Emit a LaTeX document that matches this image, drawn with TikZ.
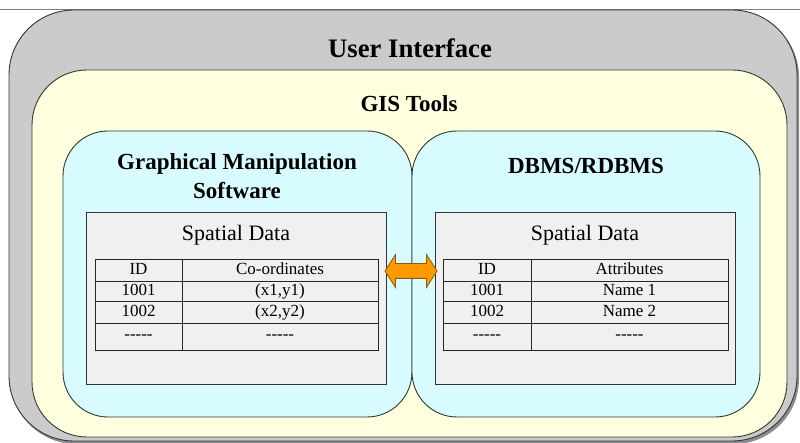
\documentclass[tikz,border=0pt]{standalone}
\usepackage{fontspec}
\newfontfamily\diagfont{Liberation Serif}
\usetikzlibrary{shapes.arrows}
\definecolor{shellgray}{HTML}{CBCBCB}
\definecolor{toolyellow}{HTML}{FFFFE0}
\definecolor{appcyan}{HTML}{D8FBFF}
\definecolor{panelgray}{HTML}{F0F0F0}
\definecolor{edge}{HTML}{2E3A2E}
\definecolor{arroworange}{HTML}{FF9900}
\definecolor{arrowedge}{HTML}{8A5A10}
\tikzset{
  layer/.style={draw=edge, line width=0.9pt},
  panel/.style={draw=black!80, fill=panelgray, line width=0.9pt},
  grid/.style={draw=black!85, line width=0.9pt},
  cell/.style={font=\diagfont\fontsize{17}{17}\selectfont, anchor=base, inner sep=0pt},
  caption/.style={font=\diagfont\fontsize{22}{22}\selectfont, anchor=base, inner sep=0pt},
  title/.style={font=\diagfont\bfseries\fontsize{23}{23}\selectfont, anchor=base, inner sep=0pt},
}
\begin{document}
\begin{tikzpicture}[x=1pt, y=-1pt]
\useasboundingbox (0,0) rectangle (800,443);
\fill[white] (0,0) rectangle (800,443);
% rule along the top edge
\draw[gray, line width=0.8pt] (0,9) -- (800,9);

% outer shell: user interface
\fill[black!45, rounded corners=65pt] (11,12) rectangle (799,444);
\filldraw[layer, fill=shellgray, rounded corners=65pt] (9,10) rectangle (797,441);
% GIS tools layer
\filldraw[layer, fill=toolyellow, rounded corners=55pt] (32,70) rectangle (787,437);
% the two application containers
\filldraw[layer, fill=appcyan, rounded corners=45pt] (63,131) rectangle (412,417);
\filldraw[layer, fill=appcyan, rounded corners=45pt] (412,131) rectangle (760,417);

% headings
\node[title, font=\diagfont\bfseries\fontsize{26.7}{26.7}\selectfont] (ui) at (410,58) {User Interface};
\node[title] (gis) at (409,112) {GIS Tools};
\node[title] (gms1) at (237,170) {Graphical Manipulation};
\node[title] (gms2) at (237,199) {Software};
\node[title] (dbms) at (586,174) {DBMS/RDBMS};

% spatial data panels
\node[panel, minimum width=300pt, minimum height=172pt, anchor=north west, inner sep=0pt] (lpanel) at (86,212) {};
\node[panel, minimum width=300pt, minimum height=172pt, anchor=north west, inner sep=0pt] (rpanel) at (435,212) {};
\node[caption] (lsd) at (236,241) {Spatial Data};
\node[caption] (rsd) at (585,241) {Spatial Data};

% left table: ID / co-ordinates
\draw[grid] (95,259) rectangle (378,350);
\draw[grid] (182,259) -- (182,350);
\foreach \yy in {281,301,323} \draw[grid] (95,\yy) -- (378,\yy);
\node[cell] (lid) at (138.5,275) {ID};
\node[cell] (lco) at (280,275) {Co-ordinates};
\node[cell] (l1a) at (138.5,296) {1001};
\node[cell] (l1b) at (280,296) {(x1,y1)};
\node[cell] (l2a) at (138.5,317) {1002};
\node[cell] (l2b) at (280,317) {(x2,y2)};
\node[cell] (l3a) at (138.5,340) {-{}-{}-{}-{}-};
\node[cell] (l3b) at (280,340) {-{}-{}-{}-{}-};

% right table: ID / attributes
\draw[grid] (443,259) rectangle (728,350);
\draw[grid] (531,259) -- (531,350);
\foreach \yy in {281,301,323} \draw[grid] (443,\yy) -- (728,\yy);
\node[cell] (rid) at (487,275) {ID};
\node[cell] (rat) at (629.5,275) {Attributes};
\node[cell] (r1a) at (487,296) {1001};
\node[cell] (r1b) at (629.5,296) {Name 1};
\node[cell] (r2a) at (487,317) {1002};
\node[cell] (r2b) at (629.5,317) {Name 2};
\node[cell] (r3a) at (487,340) {-{}-{}-{}-{}-};
\node[cell] (r3b) at (629.5,340) {-{}-{}-{}-{}-};

% data exchange between the two applications
\node[double arrow, draw=arrowedge, fill=arroworange, line width=0.8pt,
      minimum height=52pt, minimum width=32pt, inner sep=7pt,
      double arrow head extend=9pt, double arrow tip angle=115]
      (sync) at (411,271) {};
\end{tikzpicture}
\end{document}
